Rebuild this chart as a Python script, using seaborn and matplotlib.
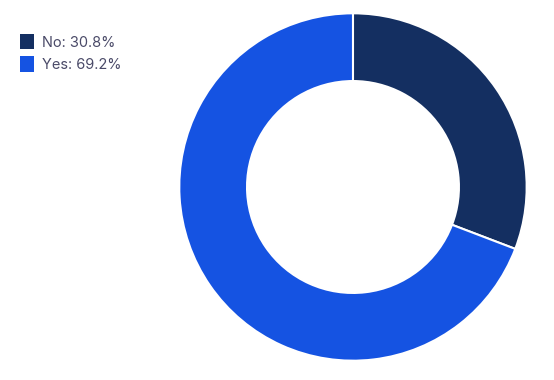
import matplotlib.pyplot as plt
import seaborn as sns
from matplotlib.patches import Patch

# data
labels = ['No', 'Yes']
shares = [30.8, 69.2]
colors = ['#142f61', '#1553e2']

sns.set_theme(style='white')
plt.rcParams['font.family'] = ['Inter', 'DejaVu Sans']

fig = plt.figure(figsize=(5.54, 3.8), dpi=100)
ax = fig.add_axes([0.3236, 0.0508, 0.6271, 0.9142])

ax.pie(shares, colors=colors, startangle=90, counterclock=False, radius=1,
       wedgeprops=dict(width=0.39, edgecolor='white', linewidth=1.5))
ax.set_xlim(-1, 1)
ax.set_ylim(-1, 1)
ax.set_aspect('equal')
ax.axis('off')

handles = [Patch(facecolor=c, edgecolor='none') for c in colors]
legend_labels = [f'{l}: {v}%' for l, v in zip(labels, shares)]
fig.legend(handles, legend_labels, loc='upper left', bbox_to_anchor=(0.012, 0.945),
           frameon=False, fontsize=10.5, handlelength=1.0, handleheight=1.25,
           handletextpad=0.55, labelspacing=0.45, labelcolor='#4a4a68')

fig.savefig('out.png', dpi=100)
